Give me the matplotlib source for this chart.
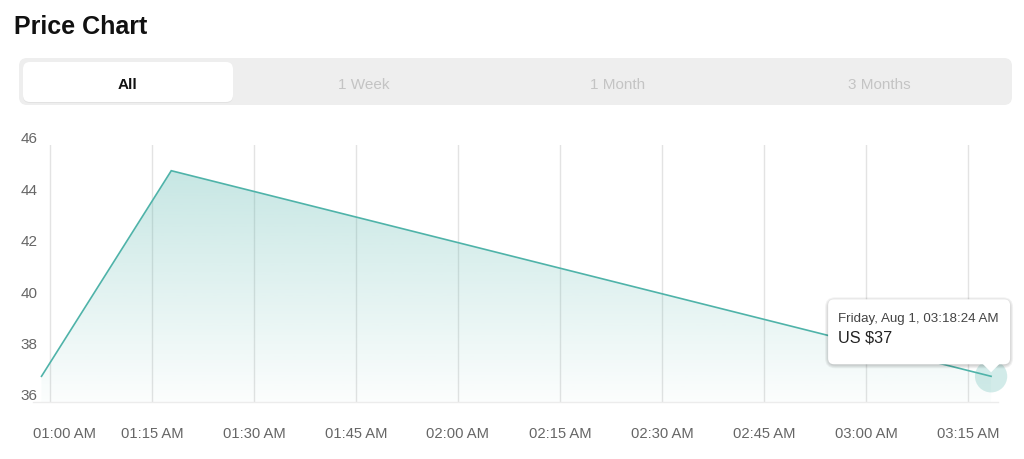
import matplotlib
matplotlib.use("Agg")
import matplotlib.pyplot as plt
import matplotlib.dates as mdates
import matplotlib.transforms as mtransforms
from matplotlib.patches import FancyBboxPatch, Polygon
import numpy as np
import datetime as dt

# ---- data ----
times = ["2025-08-01 00:58:45", "2025-08-01 01:17:50", "2025-08-01 03:18:24"]
prices = [37, 45, 37]
tick_times = ["01:00", "01:15", "01:30", "01:45", "02:00", "02:15", "02:30", "02:45", "03:00", "03:15"]
tick_labels = ["01:00 AM", "01:15 AM", "01:30 AM", "01:45 AM", "02:00 AM", "02:15 AM",
               "02:30 AM", "02:45 AM", "03:00 AM", "03:15 AM"]
y_ticks = [36, 38, 40, 42, 44, 46]
tabs = ["All", "1 Week", "1 Month", "3 Months"]
tooltip_date = "Friday, Aug 1, 03:18:24 AM"
tooltip_value = "US $37"

plt.rcParams['font.family'] = ['Liberation Sans', 'DejaVu Sans']

W, H = 1024, 460
fig = plt.figure(figsize=(W / 100, H / 100), dpi=100)
fig.patch.set_facecolor("white")

def px(x0, y0, x1, y1):
    return [x0 / W, 1 - y1 / H, (x1 - x0) / W, (y1 - y0) / H]

ax = fig.add_axes(px(33, 146, 998, 403))

xs = [mdates.date2num(dt.datetime.strptime(t, "%Y-%m-%d %H:%M:%S")) for t in times]
xt = [mdates.date2num(dt.datetime.strptime("2025-08-01 " + t, "%Y-%m-%d %H:%M")) for t in tick_times]

line_color = "#4fb3a9"
ax.set_xlim(mdates.date2num(dt.datetime(2025, 8, 1, 0, 57, 30)),
            mdates.date2num(dt.datetime(2025, 8, 1, 3, 19, 25)))
ax.set_ylim(36, 46)

# gradient fill
ymin = 36
grad = np.linspace(0, 1, 256).reshape(-1, 1)
rgba = np.zeros((256, 1, 4))
rgba[..., 0] = 0x4f / 255
rgba[..., 1] = 0xb3 / 255
rgba[..., 2] = 0xa9 / 255
rgba[..., 3] = 0.02 + 0.30 * grad[:, 0:1]
img = ax.imshow(rgba, aspect="auto", origin="lower",
                extent=[ax.get_xlim()[0], ax.get_xlim()[1], ymin, max(prices)], zorder=1)
poly = Polygon(list(zip(xs, prices)) + [(xs[-1], ymin), (xs[0], ymin)],
               closed=True, facecolor="none", edgecolor="none", transform=ax.transData)
ax.add_patch(poly)
img.set_clip_path(poly)

ax.plot(xs, prices, color=line_color, lw=1.2, zorder=3, solid_joinstyle="miter")
# highlight point
ax.scatter([xs[-1]], [prices[-1]], s=540, color="#4fb3a9", alpha=0.25, edgecolors="none",
           zorder=2, clip_on=False)

ax.set_xticks(xt)
ax.set_xticklabels(tick_labels)
ax.set_yticks(y_ticks)
ax.set_yticklabels([str(v) for v in y_ticks])
ax.grid(axis="x", color="#e3e3e3", lw=1)
ax.grid(axis="y", visible=False)
ax.set_axisbelow(True)
for s in ["top", "right", "left"]:
    ax.spines[s].set_visible(False)
ax.spines["bottom"].set_color("#ececec")
ax.spines["bottom"].set_linewidth(1)
ax.tick_params(axis="both", length=0, labelcolor="#666666")
ax.tick_params(axis="x", pad=17, labelsize=10.6)
ax.tick_params(axis="y", pad=-3.2, labelsize=11)

for lab in ax.get_yticklabels():
    lab.set_transform(lab.get_transform() + mtransforms.ScaledTranslation(0, 8 / 100, fig.dpi_scale_trans))
xl = ax.get_xticklabels()
xl[0].set_transform(xl[0].get_transform() + mtransforms.ScaledTranslation(15 / 100, 0, fig.dpi_scale_trans))

# title
fig.text(14 / W, 1 - 27 / H, "Price Chart", fontsize=18, fontweight="bold", color="#111111",
         va="center", ha="left")

# tabs
def box_px(x0, y0, x1, y1, r, fc, ec="none", lw=0, z=1, alpha=1):
    p = FancyBboxPatch((x0, H - y1), x1 - x0, y1 - y0,
                       boxstyle=f"round,pad=0,rounding_size={r}",
                       facecolor=fc, edgecolor=ec, linewidth=lw, transform=None, zorder=z, alpha=alpha)
    fig.add_artist(p)
    return p

box_px(19, 59, 1012, 106, 8, "#eeeeee", z=1)
box_px(23, 64, 233, 104, 7, "#e2e2e2", z=2)
box_px(23, 63, 233, 103, 7, "#ffffff", z=3)
tab_x = [128, 364, 618, 879]
for i, (t, x) in enumerate(zip(tabs, tab_x)):
    fig.text(x / W, 1 - 85 / H, t, fontsize=11, ha="center", va="center",
             color="#111111" if i == 0 else "#c4c4c4",
             fontweight="bold" if i == 0 else "normal", zorder=4)

# tooltip
fig.canvas.draw()
tip_disp = ax.transData.transform((xs[-1], prices[-1]))
tx, ty = tip_disp[0], H - tip_disp[1]   # image pixel coordinates
bx0, bx1 = tx - 163, tx + 19
by0, by1 = ty - 77, ty - 12
for k in range(4):
    d = k + 1
    box_px(bx0 - d + 1, by0 - d + 2, bx1 + d - 1, by1 + d, 6 + d, "#000000", z=5, alpha=0.05)
box_px(bx0, by0, bx1, by1, 6, "#ffffff", z=6)
tri = Polygon([(tx - 9, H - by1 + 1), (tx + 9, H - by1 + 1), (tx, H - (by1 + 8))], closed=True,
              facecolor="#ffffff", edgecolor="none", transform=None, zorder=6)
fig.add_artist(tri)
fig.text((bx0 + 10) / W, 1 - (by0 + 19) / H, tooltip_date, fontsize=9.6, color="#444444",
         ha="left", va="center", zorder=7)
fig.text((bx0 + 10) / W, 1 - (by0 + 38) / H, tooltip_value, fontsize=11.7, color="#222222",
         ha="left", va="center", zorder=7)

fig.savefig("out.png", dpi=100, facecolor="white")
